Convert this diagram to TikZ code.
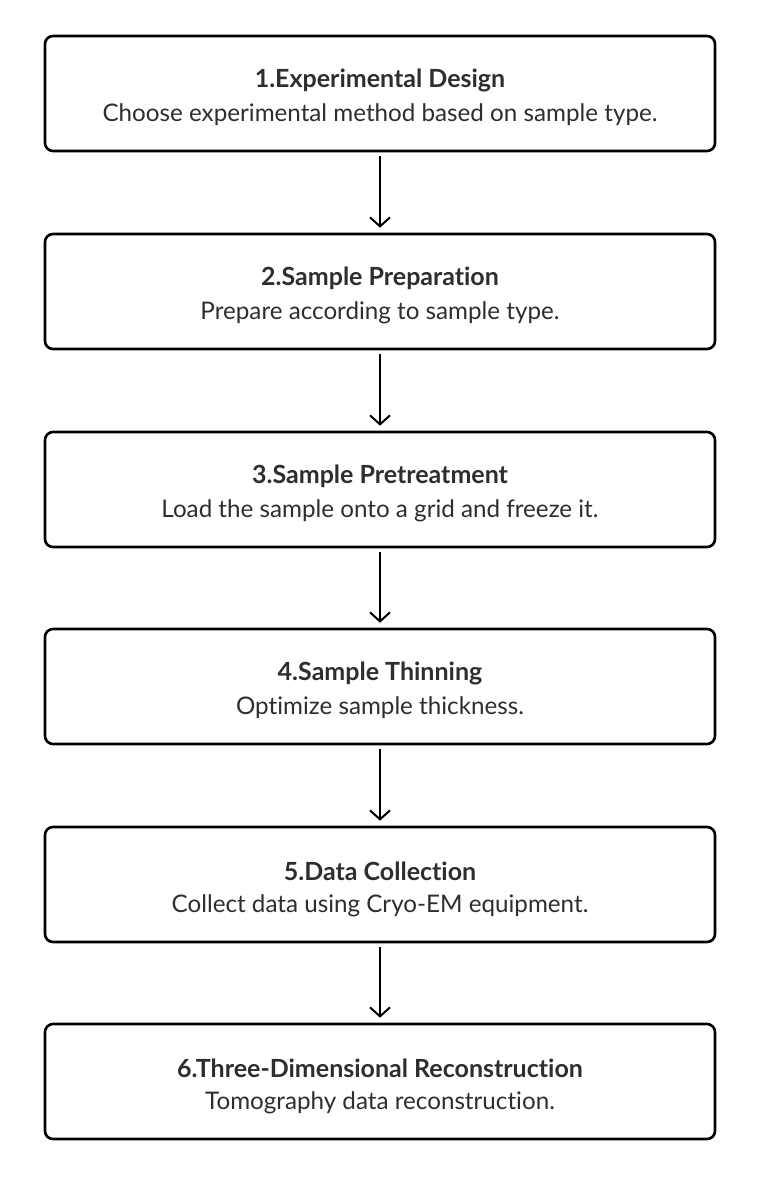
\documentclass[tikz,border=0pt]{standalone}
\usepackage{fontspec}
\setmainfont{Lato}[Ligatures={NoCommon}]
\usetikzlibrary{arrows.meta}
\definecolor{txt}{HTML}{2E2E2E}
\tikzset{
  stepbox/.style={draw=black, line width=2.6pt, rounded corners=8pt, minimum width=670pt, minimum height=115pt, fill=white},
  ttl/.style={text=txt, font=\fontsize{25}{28}\selectfont\bfseries},
  dsc/.style={text=txt, font=\fontsize{24.2}{28}\selectfont},
  flow/.style={draw=black, line width=2pt, -{Straight Barb[length=9pt,width=20pt,line width=2pt]}}
}
\begin{document}
\begin{tikzpicture}[x=1pt,y=-1pt]
\useasboundingbox (0,0) rectangle (761,1188);
\foreach \i/\y/\t/\d in {
 1/93.5/1.Experimental Design/Choose experimental method based on sample type.,
 2/291.5/2.Sample Preparation/Prepare according to sample type.,
 3/489.5/3.Sample Pretreatment/Load the sample onto a grid and freeze it.,
 4/686.5/4.Sample Thinning/Optimize sample thickness.,
 5/884.5/5.Data Collection/Collect data using Cryo-EM equipment.,
 6/1081.5/6.Three-Dimensional Reconstruction/Tomography data reconstruction.}{
  \node[stepbox] (b\i) at (380,\y) {};
  \node[ttl] (t\i) at (380,\y-13) {\t};
  \node[dsc] (d\i) at (380,\y+21) {\d};
}
\foreach \a/\b in {1/2,2/3,3/4,4/5,5/6}{
  \draw[flow] ([yshift=-4pt]b\a.south) -- ([yshift=5pt]b\b.north);
}
\end{tikzpicture}
\end{document}
